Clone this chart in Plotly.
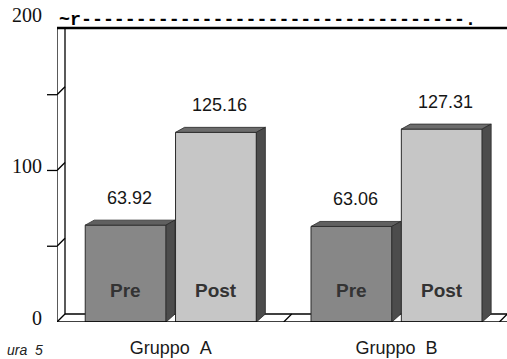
import plotly.graph_objects as go

# Data
groups = ["Gruppo\u00a0\u00a0A", "Gruppo\u00a0\u00a0B"]
phases = ["Pre", "Post"]
pre_values = [63.92, 63.06]
post_values = [125.16, 127.31]
y_tick_values = [0, 50, 100, 150, 200]
y_tick_labels = ["0", "", "100", "", "200"]
wall_tick_values = [50, 100, 150]

# Geometry / style
W, H = 507, 359
ML, MR, MT, MB = 57, 0, 0, 37
X_RANGE = [-0.504, 1.489]
Y_RANGE = [0, 212.5]
px_x = (W - ML - MR) / (X_RANGE[1] - X_RANGE[0])
px_y = (H - MT - MB) / (Y_RANGE[1] - Y_RANGE[0])

BAR_W = 0.358
OFFSETS = {"Pre": -0.2, "Post": 0.2}
BAR_DX = 9 / px_x
BAR_DY = 5 / px_y
WALL_DX = 8 / px_x
WALL_DY = 8 / px_y
WALL_TOP = (H - MB - 28) / px_y

FRONT = {"Pre": "#878787", "Post": "#c6c6c6"}
TOP = {"Pre": "#606060", "Post": "#6c6c6c"}
SIDE = "#4c4c4c"
EDGE = "#2a2a2a"

series = {"Pre": pre_values, "Post": post_values}

fig = go.Figure()
shapes = []
annotations = []

for ph in phases:
    xs = [i + OFFSETS[ph] for i in range(len(groups))]
    vals = series[ph]
    fig.add_trace(go.Bar(
        x=xs, y=vals, width=BAR_W, name=ph,
        marker=dict(color=FRONT[ph], line=dict(color=EDGE, width=1)),
        hoverinfo="skip", showlegend=False,
    ))
    for x, v in zip(xs, vals):
        x0, x1 = x - BAR_W / 2, x + BAR_W / 2
        # top face
        shapes.append(dict(
            type="path", xref="x", yref="y",
            path=f"M {x0},{v} L {x1},{v} L {x1 + BAR_DX},{v + BAR_DY} L {x0 + BAR_DX},{v + BAR_DY} Z",
            fillcolor=TOP[ph], line=dict(color=EDGE, width=0.8), layer="above"))
        # side face
        shapes.append(dict(
            type="path", xref="x", yref="y",
            path=f"M {x1},0 L {x1},{v} L {x1 + BAR_DX},{v + BAR_DY} L {x1 + BAR_DX},{WALL_DY} Z",
            fillcolor=SIDE, line=dict(color=EDGE, width=0.8), layer="above"))
        # value label
        annotations.append(dict(
            x=x, y=v, xref="x", yref="y", text=f"{v:.2f}", showarrow=False,
            xshift=4, yshift=27, font=dict(family="Liberation Sans", size=18, color="#161616")))
        # phase label inside the bar
        annotations.append(dict(
            x=x, y=0, xref="x", yref="y", text=f"<b>{ph}</b>", showarrow=False,
            yshift=32, font=dict(family="Liberation Sans", size=19, color="#333333")))

xmin, xmax = X_RANGE
line_k = dict(color="#000000", width=1.3)

# back wall and floor
shapes += [
    dict(type="line", xref="x", yref="y", x0=xmin, x1=xmin, y0=0, y1=WALL_TOP, line=line_k),
    dict(type="line", xref="x", yref="y", x0=xmin + WALL_DX, x1=xmin + WALL_DX,
         y0=WALL_DY, y1=WALL_TOP, line=line_k),
    dict(type="line", xref="x", yref="y", x0=xmin, x1=xmin + WALL_DX, y0=0, y1=WALL_DY, line=line_k),
    dict(type="line", xref="x", yref="y", x0=xmin, x1=xmax, y0=WALL_TOP, y1=WALL_TOP,
         line=dict(color="#000000", width=2.6)),
    dict(type="line", xref="x", yref="y", x0=xmin, x1=xmax, y0=0, y1=0,
         line=dict(color="#000000", width=1.6)),
    dict(type="line", xref="x", yref="y", x0=xmin + WALL_DX, x1=xmax, y0=WALL_DY, y1=WALL_DY,
         line=line_k, layer="below"),
]
for xb in [0.5, 1.455]:
    shapes.append(dict(type="line", xref="x", yref="y", x0=xb, x1=xb + WALL_DX,
                       y0=0, y1=WALL_DY, line=line_k, layer="below"))
for v in wall_tick_values:
    shapes.append(dict(type="line", xref="paper", yref="y", xsizemode="pixel", xanchor=0,
                       x0=-10, x1=0, y0=v, y1=v, line=line_k))
    shapes.append(dict(type="line", xref="x", yref="y", x0=xmin, x1=xmin + WALL_DX,
                       y0=v, y1=v + WALL_DY, line=line_k))

# heading rule text and caption
annotations.append(dict(
    xref="paper", yref="paper", x=0, y=(H - MB - 20) / (H - MT - MB),
    xanchor="left", yanchor="middle", showarrow=False,
    text="<b>~r" + "-" * 35 + ".</b>",
    font=dict(family="Liberation Mono", size=18.3, color="#000000")))
annotations.append(dict(
    xref="paper", yref="paper", x=(45 - ML) / (W - ML - MR), y=(H - MB - 350) / (H - MT - MB),
    xanchor="right", yanchor="middle", showarrow=False,
    text="ura\u00a0\u00a05",
    font=dict(family="Liberation Sans", size=14, color="#222222", style="italic")))

fig.update_layout(
    width=W, height=H,
    margin=dict(l=ML, r=MR, t=MT, b=MB),
    paper_bgcolor="white", plot_bgcolor="white",
    barmode="overlay",
    shapes=shapes, annotations=annotations,
    xaxis=dict(range=X_RANGE, tickvals=list(range(len(groups))), ticktext=groups,
               showgrid=False, zeroline=False, showline=False, ticks="",
               ticklabelstandoff=13,
               tickfont=dict(family="Liberation Sans", size=18, color="#1a1a1a")),
    yaxis=dict(range=Y_RANGE, tickvals=y_tick_values, ticktext=y_tick_labels,
               showgrid=False, zeroline=False, showline=False, ticks="",
               ticklabelshift=-4, ticklabelstandoff=14,
               tickfont=dict(family="Liberation Serif", size=20, color="#111111")),
)

fig.write_html("out.html")
